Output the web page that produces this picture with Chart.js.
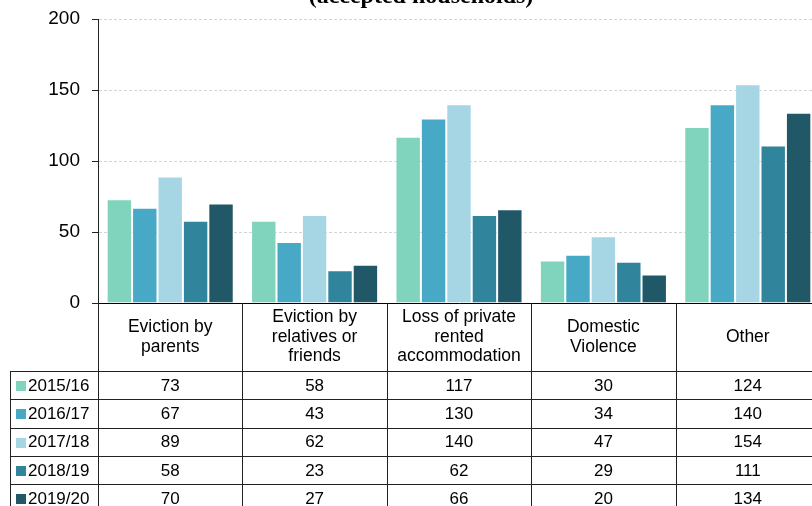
<!DOCTYPE html>
<html>
<head>
<meta charset="utf-8">
<script src="https://cdn.jsdelivr.net/npm/chart.js@4"></script>
<style>
  html, body { margin: 0; padding: 0; background: #fff; overflow: hidden; }
  #wrap { width: 812px; height: 506px; overflow: hidden; position: relative; }
  canvas { display: block; }
</style>
</head>
<body>
<div id="wrap"><canvas id="my-chart" width="820" height="506"></canvas></div>
<script>
'use strict';

let categories = [
  ['Eviction by', 'parents'],
  ['Eviction by', 'relatives or', 'friends'],
  ['Loss of private', 'rented', 'accommodation'],
  ['Domestic', 'Violence'],
  ['Other']
];
let years = ['2015/16', '2016/17', '2017/18', '2018/19', '2019/20'];
let vals1516 = [73, 58, 117, 30, 124];
let vals1617 = [67, 43, 130, 34, 140];
let vals1718 = [89, 62, 140, 47, 154];
let vals1819 = [58, 23, 62, 29, 111];
let vals1920 = [70, 27, 66, 20, 134];
let yTicks = [0, 50, 100, 150, 200];

let seriesVals = [vals1516, vals1617, vals1718, vals1819, vals1920];
let colors = ['#80d3bc', '#47a9c6', '#a6d6e4', '#30849c', '#215868'];

let canvasElem = document.getElementById('my-chart');

let font = "'Liberation Sans', Arial, sans-serif";

// title line (only the lower part is visible in the frame)
let titlePlugin = {
  id: 'topTitle',
  afterDraw(chart) {
    let ctx = chart.ctx;
    ctx.save();
    ctx.font = "bold 24px 'Liberation Serif', 'Times New Roman', serif";
    ctx.fillStyle = '#000';
    ctx.textAlign = 'center';
    ctx.textBaseline = 'alphabetic';
    ctx.fillText('(accepted households)', 421, 3);
    ctx.restore();
  }
};

// data table under the x axis
let tablePlugin = {
  id: 'dataTable',
  afterDraw(chart) {
    let ctx = chart.ctx;
    let area = chart.chartArea;
    let xScale = chart.scales.x;
    let n = categories.length;
    let colW = (area.right - area.left) / n;
    let top = area.bottom;
    let headH = 68;
    let rowH = 28.3;
    let labelLeft = 10;
    let bottom = top + headH + rowH * years.length;

    ctx.save();
    ctx.strokeStyle = '#222';
    ctx.lineWidth = 1;

    // horizontal lines
    for (let r = 0; r <= years.length; r++) {
      let y = Math.round(top + headH + r * rowH) + 0.5;
      ctx.beginPath();
      ctx.moveTo(labelLeft, y);
      ctx.lineTo(area.right, y);
      ctx.stroke();
    }
    // vertical lines
    for (let i = 0; i <= n; i++) {
      let x = Math.round(area.left + i * colW) + 0.5;
      ctx.beginPath();
      ctx.moveTo(x, top);
      ctx.lineTo(x, bottom);
      ctx.stroke();
    }
    ctx.beginPath();
    ctx.moveTo(labelLeft + 0.5, top + headH);
    ctx.lineTo(labelLeft + 0.5, bottom);
    ctx.stroke();

    ctx.fillStyle = '#000';
    ctx.font = '17.5px ' + font;
    ctx.textAlign = 'center';
    ctx.textBaseline = 'middle';

    // category headers
    let lineH = 19.5;
    for (let i = 0; i < n; i++) {
      let cx = xScale.getPixelForValue(i);
      let lines = categories[i];
      let cy = top + headH / 2 - (lines.length - 1) * lineH / 2;
      for (let k = 0; k < lines.length; k++) {
        ctx.fillText(lines[k], cx, cy + k * lineH);
      }
    }

    // rows
    ctx.font = '17px ' + font;
    for (let r = 0; r < years.length; r++) {
      let cy = top + headH + r * rowH + rowH / 2 + 1;
      ctx.fillStyle = colors[r];
      ctx.fillRect(16, Math.round(cy - 5), 10, 10);
      ctx.fillStyle = '#000';
      ctx.textAlign = 'left';
      ctx.fillText(years[r], 28, cy);
      ctx.textAlign = 'center';
      for (let i = 0; i < n; i++) {
        ctx.fillText(String(seriesVals[r][i]), xScale.getPixelForValue(i), cy);
      }
    }
    ctx.restore();
  }
};

function renderChart() {
  let datasets = [];
  for (let i = 0; i < years.length; i++) {
    datasets.push({
      label: years[i],
      data: seriesVals[i],
      backgroundColor: colors[i],
      borderColor: 'rgba(255,255,255,0.3)',
      borderWidth: 1,
      borderSkipped: 'bottom',
      barPercentage: 1,
      categoryPercentage: 0.88
    });
  }

  let chartObj = {
    type: 'bar',
    data: {
      labels: categories.map(c => c.join(' ')),
      datasets: datasets
    },
    options: {
      responsive: false,
      animation: false,
      devicePixelRatio: 1,
      layout: {
        padding: { top: 19, left: 0, right: 0, bottom: 203 }
      },
      scales: {
        x: {
          ticks: { display: false },
          grid: { display: false },
          border: { color: '#000', width: 1 },
          afterFit(scale) { scale.height = 0; }
        },
        y: {
          min: 0,
          max: 200,
          afterBuildTicks(scale) {
            scale.ticks = yTicks.map(v => ({ value: v }));
          },
          ticks: {
            color: '#000',
            padding: 12,
            font: { family: font, size: 19 }
          },
          grid: {
            color: '#d4d4d4',
            tickColor: '#222',
            tickLength: 6,
            tickBorderDash: []
          },
          border: { color: '#222', width: 1, dash: [3, 2] },
          afterFit(scale) {
            scale.width = 98;
            scale.paddingTop = 0;
            scale.paddingBottom = 0;
          }
        }
      },
      plugins: {
        legend: { display: false },
        tooltip: { enabled: false }
      }
    },
    plugins: [tablePlugin, titlePlugin]
  };

  new Chart(canvasElem, chartObj); //eslint-disable-line
}

renderChart();
</script>
</body>
</html>
